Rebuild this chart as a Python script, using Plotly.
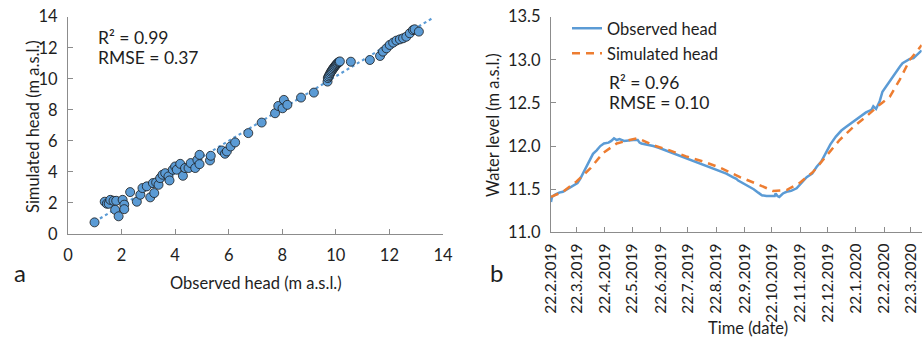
import plotly.graph_objects as go
import pandas as pd

# ---------------- Panel a: observed vs simulated head ----------------
obs_head = [0.99, 1.37, 1.45, 1.52, 1.58, 1.70, 1.80, 1.76, 1.89, 2.04, 2.10, 2.10, 2.32, 2.57, 2.70,
            2.78, 2.94, 3.07, 3.17, 3.22, 3.29, 3.38, 3.44, 3.53, 3.63, 3.75, 3.79, 3.91, 4.00, 4.06,
            4.19, 4.29, 4.37, 4.50, 4.58, 4.75, 4.83, 4.91, 4.91, 5.30, 5.33, 5.74, 5.86, 5.93, 6.07,
            6.24, 6.73, 7.23, 7.73, 7.85, 8.01, 8.06, 8.19, 8.70, 9.18, 9.69,
            9.70, 9.73, 9.76, 9.79, 9.82, 9.85, 9.88, 9.91, 9.94, 9.97, 10.00, 10.03, 10.06, 10.09, 10.12, 10.15,
            10.56, 11.27, 11.65, 11.76, 11.89, 12.01, 12.14, 12.26, 12.39, 12.51, 12.63, 12.76, 12.88, 12.94, 13.10]
sim_head = [0.75, 2.08, 1.95, 1.95, 2.20, 2.14, 2.14, 1.56, 1.14, 2.20, 1.89, 1.60, 2.70, 2.08, 2.53,
            2.96, 3.07, 2.36, 3.28, 2.64, 3.32, 3.17, 3.60, 3.82, 3.92, 3.71, 3.45, 4.14, 4.35, 4.14,
            4.52, 3.75, 4.25, 4.25, 4.57, 4.25, 4.78, 4.50, 5.10, 4.74, 5.04, 5.38, 5.17, 5.32, 5.64,
            5.90, 6.50, 7.18, 7.78, 8.25, 8.10, 8.64, 8.32, 8.79, 9.11, 9.82,
            10.05, 10.15, 10.25, 10.35, 10.45, 10.52, 10.60, 10.68, 10.75, 10.82, 10.88, 10.94, 11.00, 11.05, 11.08, 11.12,
            11.10, 11.21, 11.47, 11.75, 11.96, 12.18, 12.33, 12.46, 12.54, 12.61, 12.71, 12.93, 13.14, 13.19, 13.04]
trend_x = [1.0, 13.6]
trend_y = [0.8, 13.9]
axis_a_ticks = [0, 2, 4, 6, 8, 10, 12, 14]

# ---------------- Panel b: time series ----------------
start_date = "2019-02-22"
obs_days = [0, 1, 5, 9, 13, 19, 26, 29, 32, 35, 39, 43, 46, 50, 54, 58, 63, 66, 69, 72, 75, 80, 86, 90,
            95, 97, 99, 105, 112, 118, 123, 130, 136, 142, 148, 155, 163, 170, 177, 185, 192,
            199, 203, 205, 210, 218, 222, 227, 231, 236, 240, 245, 246, 248, 250, 254, 258, 263, 269,
            274, 280, 286, 291, 296, 301, 306, 312, 318, 323, 328, 334, 340, 345,
            351, 353, 356, 360, 363, 368, 373, 378, 382, 385, 389, 393, 397, 400, 403, 406]
obs_level = [11.35, 11.41, 11.44, 11.46, 11.47, 11.51, 11.55, 11.57, 11.62, 11.68, 11.76, 11.85, 11.91,
             11.95, 12.00, 12.03, 12.04, 12.06, 12.09, 12.07, 12.08, 12.06, 12.07, 12.07,
             12.07, 12.04, 12.03, 12.02, 12.00, 11.98, 11.96, 11.93, 11.91, 11.88, 11.86, 11.83, 11.80,
             11.77, 11.74, 11.71, 11.68,
             11.64, 11.62, 11.60, 11.57, 11.53, 11.50, 11.46, 11.43, 11.42, 11.42, 11.42, 11.45, 11.42,
             11.41, 11.45, 11.47, 11.48, 11.51,
             11.57, 11.64, 11.68, 11.76, 11.82, 11.92, 12.02, 12.11, 12.18, 12.22, 12.26, 12.30, 12.35, 12.39,
             12.42, 12.46, 12.43, 12.52, 12.63, 12.71, 12.79, 12.86, 12.92, 12.96, 12.99, 13.01, 13.02,
             13.05, 13.07, 13.11]
sim_days = [0, 13, 28, 43, 57, 72, 86, 95, 112, 130, 148, 167, 185, 207, 228, 243, 258, 272, 287,
            301, 316, 331, 345, 360, 371, 382, 393, 406]
sim_level = [11.41, 11.47, 11.59, 11.74, 11.92, 12.03, 12.07, 12.09, 12.01, 11.95, 11.88, 11.82, 11.75,
             11.64, 11.55, 11.48, 11.49, 11.57, 11.70, 11.88, 12.07, 12.22, 12.34, 12.48, 12.57,
             12.77, 13.00, 13.17]
tick_dates = ["2019-02-22", "2019-03-22", "2019-04-22", "2019-05-22", "2019-06-22", "2019-07-22",
              "2019-08-22", "2019-09-22", "2019-10-22", "2019-11-22", "2019-12-22", "2020-01-22",
              "2020-02-22", "2020-03-22"]
tick_labels = ["22.2.2019", "22.3.2019", "22.4.2019", "22.5.2019", "22.6.2019", "22.7.2019",
               "22.8.2019", "22.9.2019", "22.10.2019", "22.11.2019", "22.12.2019", "22.1.2020",
               "22.2.2020", "22.3.2020"]
x_end_date = "2020-04-03"

t0 = pd.Timestamp(start_date)
obs_dates = [t0 + pd.Timedelta(days=d) for d in obs_days]
sim_dates = [t0 + pd.Timedelta(days=d) for d in sim_days]

BLUE = "#5B9BD5"
ORANGE = "#ED7D31"
AXIS = "#8C8C8C"
TXT = "#1e1e1e"
FONT = "Lato"
FS = 16.5

W, H = 924, 341
def px(x):
    return x / W
def py(y):
    return 1 - y / H

fig = go.Figure()

fig.add_trace(go.Scatter(x=trend_x, y=trend_y, mode="lines",
                         line=dict(color=BLUE, width=2.2, dash="dot"),
                         xaxis="x", yaxis="y", showlegend=False, hoverinfo="skip"))
fig.add_trace(go.Scatter(x=obs_head, y=sim_head, mode="markers",
                         marker=dict(size=9, color=BLUE, line=dict(color="#1a1a1a", width=0.8)),
                         xaxis="x", yaxis="y", showlegend=False))

fig.add_trace(go.Scatter(x=obs_dates, y=obs_level, mode="lines", name="Observed head",
                         line=dict(color=BLUE, width=2.5),
                         xaxis="x2", yaxis="y2", legend="legend"))
fig.add_trace(go.Scatter(x=sim_dates, y=sim_level, mode="lines", name="Simulated head",
                         line=dict(color=ORANGE, width=2.5, dash="8px,6px"),
                         xaxis="x2", yaxis="y2", legend="legend2"))

axis_common = dict(showline=True, linecolor=AXIS, linewidth=1.2, ticks="inside", ticklen=5,
                   tickcolor=AXIS, tickwidth=1.2, showgrid=False, zeroline=False, automargin=False)

fig.update_layout(
    template="none",
    width=W, height=H, margin=dict(l=0, r=0, t=0, b=0, autoexpand=False),
    paper_bgcolor="white", plot_bgcolor="white",
    font=dict(family=FONT, size=FS, color=TXT),
    xaxis=dict(domain=[px(68), px(443)], range=[0, 14], tickvals=axis_a_ticks, anchor="y",
               ticklabelstandoff=6, tickfont=dict(family=FONT, size=FS, color=TXT), **axis_common),
    yaxis=dict(domain=[py(234), py(16.7)], range=[0, 14], tickvals=axis_a_ticks, anchor="x",
               ticklabelstandoff=6, tickfont=dict(family=FONT, size=FS, color=TXT), **axis_common),
    xaxis2=dict(domain=[px(551), px(921.7)], type="date", range=[start_date, x_end_date],
                tickvals=tick_dates, ticktext=tick_labels, tickangle=-90, anchor="y2",
                ticklabelstandoff=4, tickfont=dict(family=FONT, size=15.5, color=TXT), **axis_common),
    yaxis2=dict(domain=[py(232.3), py(16.7)], range=[11.0, 13.5], dtick=0.5, tickformat=".1f",
                anchor="x2", ticklabelstandoff=6, tickfont=dict(family=FONT, size=FS, color=TXT),
                **axis_common),
    legend=dict(x=px(567), y=py(11), xanchor="left", yanchor="top", bgcolor="rgba(0,0,0,0)",
                font=dict(family=FONT, size=FS, color=TXT)),
    legend2=dict(x=px(567), y=py(36), xanchor="left", yanchor="top", bgcolor="rgba(0,0,0,0)",
                 font=dict(family=FONT, size=FS, color=TXT)),
)

ann = [
    dict(text="R² = 0.99", x=px(96), y=py(37), xanchor="left", yanchor="middle", size=17.5),
    dict(text="RMSE = 0.37", x=px(96), y=py(58), xanchor="left", yanchor="middle", size=17.5),
    dict(text="R² = 0.96", x=px(607), y=py(82), xanchor="left", yanchor="middle", size=17.5),
    dict(text="RMSE = 0.10", x=px(607), y=py(103), xanchor="left", yanchor="middle", size=17.5),
    dict(text="Observed head (m a.s.l.)", x=px(256), y=py(283), xanchor="center", yanchor="middle", size=FS),
    dict(text="Time (date)", x=px(748), y=py(328), xanchor="center", yanchor="middle", size=FS),
    dict(text="a", x=px(20), y=py(272), xanchor="center", yanchor="middle", size=24),
    dict(text="b", x=px(497), y=py(272), xanchor="center", yanchor="middle", size=24),
]
for a in ann:
    fig.add_annotation(text=a["text"], x=a["x"], y=a["y"], xref="paper", yref="paper",
                       xanchor=a["xanchor"], yanchor=a["yanchor"], showarrow=False,
                       font=dict(family=FONT, size=a["size"], color=TXT))
fig.add_annotation(text="Simulated head (m a.s.l.)", x=px(21), y=py(127), xref="paper", yref="paper",
                   textangle=-90, showarrow=False, font=dict(family=FONT, size=FS, color=TXT))
fig.add_annotation(text="Water level (m a.s.l.)", x=px(493), y=py(125), xref="paper", yref="paper",
                   textangle=-90, showarrow=False, font=dict(family=FONT, size=FS, color=TXT))

fig.write_html("out.html", config={"displayModeBar": False},
               post_script="document.body.style.margin='0';document.body.style.overflow='hidden';")
